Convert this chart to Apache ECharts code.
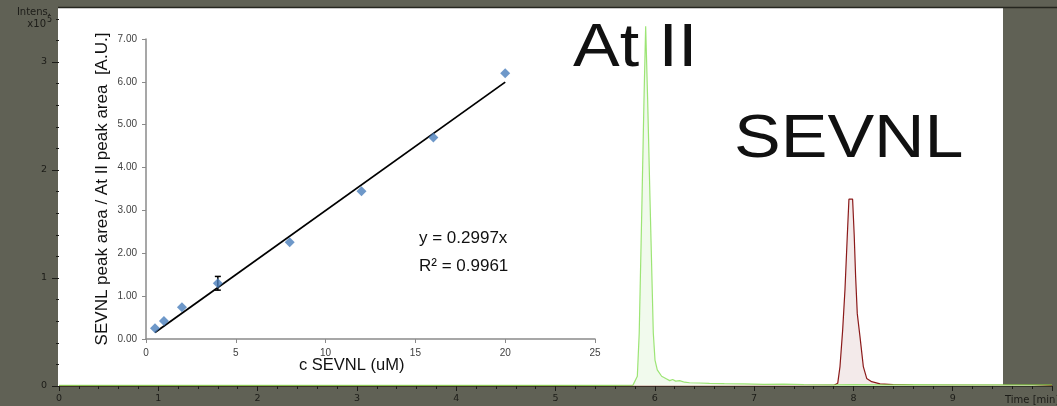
<!DOCTYPE html>
<html>
<head>
<meta charset="utf-8">
<script src="https://cdn.jsdelivr.net/npm/echarts@6/dist/echarts.min.js"></script>
<style>
html,body{margin:0;padding:0;background:#606155;}
#chart{width:1057px;height:406px;}
</style>
</head>
<body>
<div id="chart"></div>
<script>
// ---- Chromatogram (main chart) ----
const timeTicks = [0, 1, 2, 3, 4, 5, 6, 7, 8, 9];
const intensTicks = [0, 1, 2, 3];

const redTime = [0, 0.5, 1, 1.5, 2, 2.5, 3, 3.5, 4, 4.5, 5, 5.5, 5.8, 6.3, 6.6, 7.0, 7.3, 7.6, 7.8, 7.842, 7.865, 7.892, 7.915, 7.938, 7.955, 7.974, 7.992, 8.008, 8.022, 8.039, 8.066, 8.1, 8.134, 8.184, 8.268, 8.4, 8.6, 9.0, 9.4, 9.8, 10];
const redInt  = [0.004, 0.004, 0.004, 0.004, 0.004, 0.004, 0.004, 0.004, 0.004, 0.004, 0.004, 0.004, 0.004, 0.003, 0.004, 0.005, 0.004, 0.005, 0.005, 0.025, 0.18, 0.52, 0.89, 1.38, 1.73, 1.74, 1.73, 1.40, 1.02, 0.67, 0.46, 0.18, 0.07, 0.04, 0.02, 0.012, 0.008, 0.006, 0.005, 0.005, 0.005];

const greenTime = [0, 0.5, 1, 1.5, 2, 2.5, 3, 3.5, 4, 4.5, 5, 5.5, 5.78, 5.80, 5.824, 5.843, 5.871, 5.891, 5.908, 5.928, 5.952, 5.985, 6.002, 6.025, 6.069, 6.12, 6.15, 6.18, 6.21, 6.25, 6.3, 6.35, 6.45, 6.55, 6.7, 6.9, 7.1, 7.3, 7.5, 7.8, 8.0, 8.3, 8.6, 9.0, 9.4, 9.8, 10];
const greenInt  = [0.005, 0.005, 0.005, 0.005, 0.005, 0.005, 0.005, 0.005, 0.005, 0.005, 0.005, 0.006, 0.008, 0.02, 0.09, 0.49, 1.72, 2.65, 3.33, 2.65, 1.72, 0.49, 0.24, 0.15, 0.09, 0.065, 0.05, 0.06, 0.045, 0.05, 0.035, 0.03, 0.028, 0.025, 0.022, 0.02, 0.015, 0.018, 0.012, 0.01, 0.012, 0.01, 0.012, 0.01, 0.011, 0.01, 0.01];

// ---- Calibration inset ----
const concentrations = [0.5, 1, 2, 4, 8, 12, 16, 20];
const areaRatios     = [0.25, 0.42, 0.74, 1.30, 2.26, 3.45, 4.70, 6.20];
const errorBars      = [[4, 1.30, 0.16]];
const fitSlope = 0.2997;
const fitR2 = 0.9961;
const insetXTicks = [0, 5, 10, 15, 20, 25];
const insetYTicks = [0, 1, 2, 3, 4, 5, 6, 7];

const FONT = '"Liberation Sans", Arial, sans-serif';
const AXFONT = '"DejaVu Sans", Verdana, sans-serif';

const redData = redTime.map((t, i) => [t, redInt[i]]);
const greenData = greenTime.map((t, i) => [t, greenInt[i]]);
const scatterData = concentrations.map((c, i) => [c, areaRatios[i]]);
const fitX0 = concentrations[0], fitX1 = concentrations[concentrations.length - 1];
const fitData = [[fitX0, fitSlope * fitX0], [fitX1, fitSlope * fitX1]];

function txt(x, y, text, font, fill, align, scaleY) {
  return {type: 'text', z: 50, x: x, y: y, scaleY: scaleY || 1,
    style: {text: text, font: font, fill: fill, align: align || 'left', verticalAlign: 'middle'}};
}

const chart = echarts.init(document.getElementById('chart'), null, {renderer: 'canvas'});
chart.setOption({
  backgroundColor: '#606155',
  animation: false,
  graphic: [
    {type: 'rect', z: -10, shape: {x: 58, y: 8, width: 945, height: 379}, style: {fill: '#ffffff'}},
    {type: 'line', z: -9, shape: {x1: 58, y1: 7.5, x2: 1057, y2: 7.5}, style: {stroke: '#25261f', lineWidth: 1.5}},
    txt(51, 12, 'Intens.', '10px ' + AXFONT, '#1c1c18', 'right'),
    txt(46, 24, 'x10', '10px ' + AXFONT, '#1c1c18', 'right'),
    txt(47, 20, '5', '8px ' + AXFONT, '#1c1c18', 'left'),
    txt(1005, 400, 'Time [min]', '10px ' + AXFONT, '#1c1c18'),
    txt(573, 49.5, 'At II', '70px ' + FONT, '#111111', 'left', 0.864),
    txt(734, 140, 'SEVNL', '70px ' + FONT, '#111111', 'left', 0.862),
    txt(299, 365, 'c SEVNL (uM)', '16.5px ' + FONT, '#111111'),
    txt(419, 238, 'y = ' + fitSlope + 'x', '17px ' + FONT, '#111111'),
    txt(419, 266, 'R² = ' + fitR2, '17px ' + FONT, '#111111')
  ],
  grid: [
    {left: 59, right: 5, top: 8, bottom: 20},
    {left: 146, top: 39, width: 449, height: 300}
  ],
  xAxis: [
    {
      type: 'value', gridIndex: 0, min: 0, max: 10, interval: 1, offset: 2,
      axisLine: {show: true, lineStyle: {color: '#33342c', width: 1}},
      axisTick: {show: true, length: 5, lineStyle: {color: '#1c1c18'}},
      minorTick: {show: true, splitNumber: 5, length: 3, lineStyle: {color: '#1c1c18'}},
      splitLine: {show: false},
      axisLabel: {color: '#1c1c18', fontSize: 9.5, fontFamily: AXFONT, margin: 6,
        customValues: timeTicks}
    },
    {
      type: 'value', gridIndex: 1, min: 0, max: 25, interval: 5,
      axisLine: {show: true, lineStyle: {color: '#8a8a8a', width: 1.5}},
      axisTick: {show: true, length: 4, lineStyle: {color: '#8a8a8a'}, customValues: insetXTicks},
      splitLine: {show: false},
      axisLabel: {color: '#404040', fontSize: 10, fontFamily: FONT, margin: 9, customValues: insetXTicks}
    }
  ],
  yAxis: [
    {
      type: 'value', gridIndex: 0, min: 0, max: 3.5, interval: 1,
      axisLine: {show: false},
      axisTick: {show: true, length: 7, lineStyle: {color: '#1c1c18'}, customValues: intensTicks},
      minorTick: {show: true, splitNumber: 5, length: 3, lineStyle: {color: '#1c1c18'}},
      splitLine: {show: false},
      axisLabel: {color: '#1c1c18', fontSize: 9.5, fontFamily: AXFONT, margin: 12, customValues: intensTicks}
    },
    {
      type: 'value', gridIndex: 1, min: 0, max: 7, interval: 1,
      name: 'SEVNL peak area / At II peak area  [A.U.]',
      nameLocation: 'middle', nameGap: 35, nameRotate: 90,
      nameTextStyle: {color: '#111111', fontSize: 17, fontFamily: FONT},
      axisLine: {show: true, lineStyle: {color: '#8a8a8a', width: 1.5}},
      axisTick: {show: true, length: 4, lineStyle: {color: '#8a8a8a'}, customValues: insetYTicks},
      splitLine: {show: false},
      axisLabel: {color: '#404040', fontSize: 10, fontFamily: FONT, margin: 9, customValues: insetYTicks,
        formatter: v => v.toFixed(2)}
    }
  ],
  series: [
    {
      type: 'line', xAxisIndex: 0, yAxisIndex: 0, data: redData, showSymbol: false, z: 3,
      lineStyle: {color: '#8b1a1a', width: 1.2},
      areaStyle: {color: '#f3eaea', opacity: 1}
    },
    {
      type: 'line', xAxisIndex: 0, yAxisIndex: 0, data: greenData, showSymbol: false, z: 4,
      lineStyle: {color: '#7ddc4a', width: 1.2, opacity: 0.75},
      areaStyle: {color: '#eef9e8', opacity: 0.8}
    },
    {
      type: 'line', xAxisIndex: 1, yAxisIndex: 1, data: fitData, showSymbol: false, z: 5,
      lineStyle: {color: '#000000', width: 1.8}
    },
    {
      type: 'custom', xAxisIndex: 1, yAxisIndex: 1, data: errorBars, z: 6,
      encode: {x: 0, y: 1},
      renderItem: function (params, api) {
        const x = api.value(0), y = api.value(1), e = api.value(2);
        const lo = api.coord([x, y - e]);
        const hi = api.coord([x, y + e]);
        const s = {stroke: '#000000', lineWidth: 1.5};
        return {type: 'group', children: [
          {type: 'line', shape: {x1: lo[0], y1: lo[1], x2: hi[0], y2: hi[1]}, style: s},
          {type: 'line', shape: {x1: lo[0] - 3, y1: lo[1], x2: lo[0] + 3, y2: lo[1]}, style: s},
          {type: 'line', shape: {x1: hi[0] - 3, y1: hi[1], x2: hi[0] + 3, y2: hi[1]}, style: s}
        ]};
      }
    },
    {
      type: 'scatter', xAxisIndex: 1, yAxisIndex: 1, data: scatterData, z: 7,
      symbol: 'diamond', symbolSize: [10, 10],
      itemStyle: {color: '#4a7ebb'}
    }
  ]
});
</script>
</body>
</html>
